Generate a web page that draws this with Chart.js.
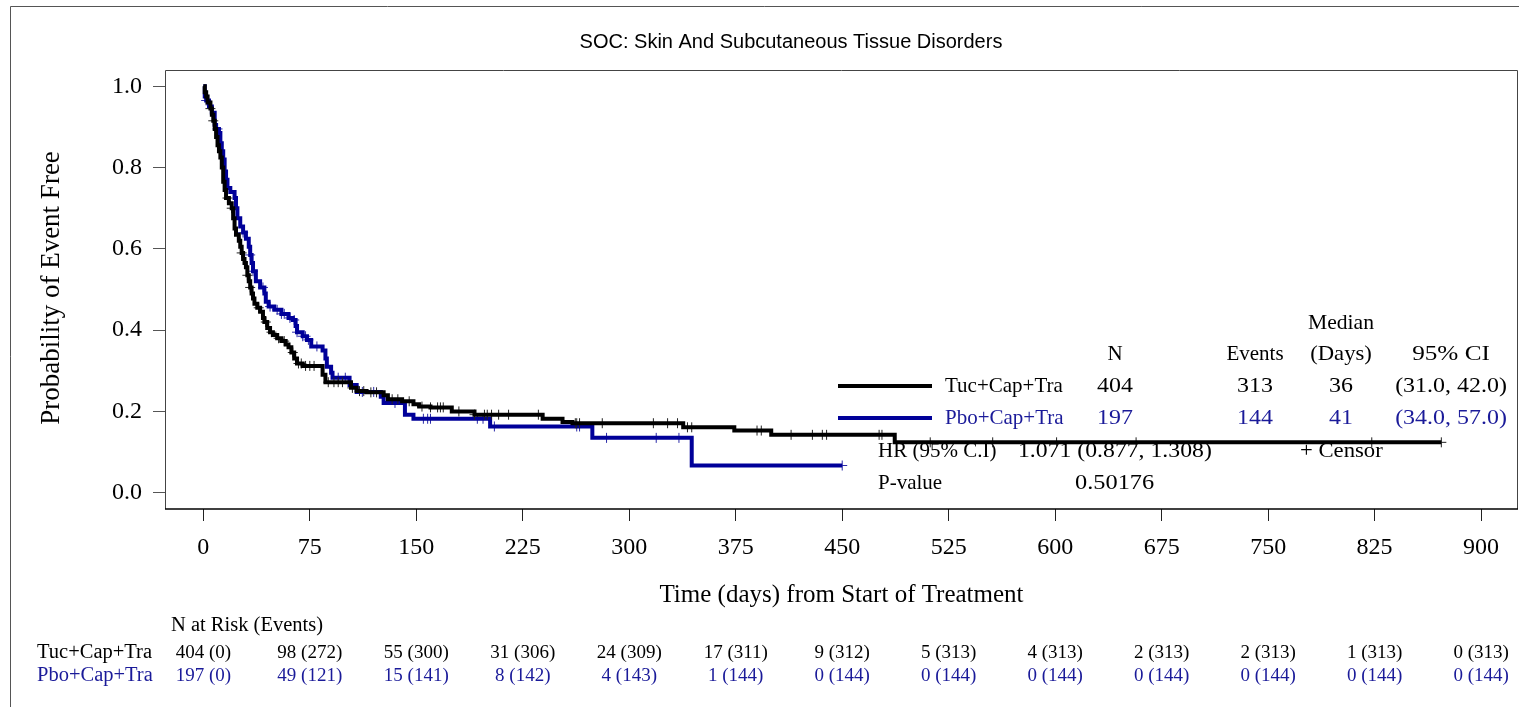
<!DOCTYPE html>
<html>
<head>
<meta charset="utf-8">
<script src="https://cdn.jsdelivr.net/npm/chart.js@4.4.1/dist/chart.umd.min.js"></script>
<style>
  html, body { margin: 0; padding: 0; background: #fff; }
  #wrap { width: 1524px; height: 707px; }
</style>
</head>
<body>
<div id="wrap"><canvas id="km" width="1524" height="707"></canvas></div>
<script>
// Axis ticks
const xTicks = [0, 75, 150, 225, 300, 375, 450, 525, 600, 675, 750, 825, 900];
const yTicks = [0, 0.2, 0.4, 0.6, 0.8, 1.0];

const armNames = ['Tuc+Cap+Tra', 'Pbo+Cap+Tra'];

// Kaplan-Meier steps (day, survival)
const tucDays = [0, 1, 2, 3, 5, 6, 7, 8, 9, 10, 11, 12, 13, 14, 15, 16, 18, 20, 21, 22, 23, 25, 26, 27, 28, 29, 30, 31, 32, 33,
  34, 35, 36, 38, 40, 42, 43, 45, 47, 49, 52, 55, 58, 60, 62, 64, 66, 70, 84, 86, 104, 108, 115, 127, 130, 140, 148, 152, 160, 175,
  191, 239, 253, 260, 338, 374, 400, 487, 872];
const tucSurv = [1, 0.985, 0.975, 0.96, 0.945, 0.93, 0.915, 0.895, 0.875, 0.855, 0.84, 0.825, 0.8, 0.765, 0.745, 0.725, 0.712, 0.7, 0.675, 0.65,
  0.635, 0.62, 0.605, 0.59, 0.575, 0.565, 0.555, 0.535, 0.52, 0.505, 0.49, 0.478, 0.465, 0.455, 0.445, 0.43, 0.42, 0.405, 0.395, 0.388,
  0.38, 0.373, 0.365, 0.358, 0.345, 0.33, 0.318, 0.312, 0.29, 0.272, 0.258, 0.25, 0.247, 0.24, 0.23, 0.225, 0.218, 0.212, 0.21, 0.2,
  0.192, 0.182, 0.174, 0.171, 0.161, 0.153, 0.1425, 0.124, 0.124];
const tucCensor = [5, 7, 17, 20, 27, 31, 33, 39, 44, 48, 53, 57, 63, 67, 69, 72, 75, 78, 88, 92, 95, 98, 105, 110, 113, 118, 122, 133, 137, 145,
  154, 160, 165, 167, 169, 180, 191, 198, 200, 203, 208, 215, 236, 262, 263, 265, 281, 317, 327, 334, 341, 344, 390, 393, 414, 429, 436, 439,
  476, 478, 512, 556, 601, 657, 823, 872];

const pboDays = [0, 1, 2, 4, 6, 8, 9, 11, 12, 13, 14, 15, 16, 17, 19, 22, 23, 24, 26, 28, 30, 32, 33, 34, 35, 37, 40, 43, 44, 46,
  50, 55, 60, 63, 65, 66, 70, 73, 76, 84, 86, 87, 90, 91, 103, 108, 125, 127, 142, 148, 202, 274, 344, 450];
const pboSurv = [1, 0.975, 0.965, 0.95, 0.935, 0.905, 0.895, 0.885, 0.86, 0.84, 0.82, 0.79, 0.77, 0.75, 0.74, 0.725, 0.7, 0.675, 0.655, 0.64,
  0.625, 0.605, 0.585, 0.565, 0.545, 0.52, 0.505, 0.49, 0.47, 0.458, 0.45, 0.44, 0.43, 0.425, 0.41, 0.395, 0.385, 0.376, 0.36, 0.35,
  0.33, 0.31, 0.295, 0.283, 0.265, 0.248, 0.236, 0.221, 0.192, 0.182, 0.163, 0.135, 0.067, 0.067];
const pboCensor = [2, 10, 28, 33, 35, 42, 47, 52, 55, 57, 61, 64, 66, 70, 72, 74, 80, 95, 100, 112, 120, 135, 155, 158, 160, 193, 197, 205,
  263, 265, 284, 319, 335, 450];

// N at risk (events) under each x tick
const tucAtRisk = [404, 98, 55, 31, 24, 17, 9, 5, 4, 2, 2, 1, 0];
const tucEvents = [0, 272, 300, 306, 309, 311, 312, 313, 313, 313, 313, 313, 313];
const pboAtRisk = [197, 49, 15, 8, 4, 1, 0, 0, 0, 0, 0, 0, 0];
const pboEvents = [0, 121, 141, 142, 143, 144, 144, 144, 144, 144, 144, 144, 144];

// Summary table
const statHeaders = ['N', 'Events', '(Days)', '95% CI'];
const tucStats = ['404', '313', '36', '(31.0, 42.0)'];
const pboStats = ['197', '144', '41', '(34.0, 57.0)'];
const hrText = ['HR (95% C.I)', '1.071 (0.877, 1.308)'];
const pText = ['P-value', '0.50176'];

const SERIF = '"Liberation Serif", "Times New Roman", serif';
const SANS = '"Liberation Sans", Arial, sans-serif';
const BLACK = '#000000';
const BLUE = '#000099';
const TEXT_BLUE = '#1a1a99';

function survAt(days, surv, t) {
  let s = surv[0];
  for (let i = 0; i < days.length; i++) {
    if (days[i] <= t) s = surv[i]; else break;
  }
  return s;
}

function steps(days, surv) {
  return days.map((d, i) => ({ x: d, y: surv[i] }));
}

function censorPts(cens, days, surv) {
  return cens.map(t => ({ x: t, y: survAt(days, surv, t) }));
}

// sx stretches the text horizontally (numbers in the original are set wide)
function txt(ctx, s, x, y, align, color, font, sx) {
  ctx.save();
  ctx.font = font;
  ctx.fillStyle = color;
  ctx.textAlign = align;
  ctx.textBaseline = 'middle';
  ctx.translate(x, y);
  ctx.scale(sx || 1, 1);
  ctx.fillText(s, 0, 0);
  ctx.restore();
}

function hline(ctx, x1, x2, y, color, w) {
  ctx.save();
  ctx.strokeStyle = color;
  ctx.lineWidth = w;
  ctx.beginPath();
  ctx.moveTo(x1, y);
  ctx.lineTo(x2, y);
  ctx.stroke();
  ctx.restore();
}

const decor = {
  id: 'decor',
  beforeDatasetsDraw(chart) {
    const ctx = chart.ctx;
    const f = '21px ' + SERIF;
    const cols = [1115, 1255, 1341, 1451];
    const hdrStretch = [1, 1, 1.08, 1.2];

    txt(ctx, 'Median', 1341, 323, 'center', BLACK, f, 1.03);
    statHeaders.forEach((h, i) => txt(ctx, h, cols[i], 354, 'center', BLACK, f, hdrStretch[i]));

    hline(ctx, 838, 932, 386, BLACK, 4);
    txt(ctx, armNames[0], 945, 386, 'left', BLACK, f);
    tucStats.forEach((v, i) => txt(ctx, v, cols[i], 386, 'center', BLACK, f, 1.14));

    hline(ctx, 838, 932, 418, BLUE, 4);
    txt(ctx, armNames[1], 945, 418, 'left', TEXT_BLUE, f);
    pboStats.forEach((v, i) => txt(ctx, v, cols[i], 418, 'center', TEXT_BLUE, f, 1.14));

    txt(ctx, hrText[0], 878, 451, 'left', BLACK, f);
    txt(ctx, hrText[1], 1018, 451, 'left', BLACK, f, 1.13);
    txt(ctx, '+ Censor', 1300, 451, 'left', BLACK, f, 1.08);
    txt(ctx, pText[0], 878, 483, 'left', BLACK, f);
    txt(ctx, pText[1], 1075, 483, 'left', BLACK, f, 1.16);
  },
  afterDraw(chart) {
    const ctx = chart.ctx;
    const a = chart.chartArea;
    const xs = chart.scales.x;

    // outer frame
    ctx.save();
    ctx.strokeStyle = '#555';
    ctx.lineWidth = 1;
    ctx.beginPath();
    ctx.moveTo(10.5, 707);
    ctx.lineTo(10.5, 6.5);
    ctx.lineTo(1519, 6.5);
    ctx.stroke();

    // plot frame
    ctx.strokeStyle = '#444';
    ctx.beginPath();
    ctx.moveTo(a.left + 0.5, a.bottom);
    ctx.lineTo(a.left + 0.5, a.top + 0.5);
    ctx.lineTo(a.right - 0.5, a.top + 0.5);
    ctx.lineTo(a.right - 0.5, a.bottom);
    ctx.stroke();
    ctx.restore();
    hline(ctx, a.left, a.right, a.bottom, '#000', 1.5);

    txt(ctx, 'SOC: Skin And Subcutaneous Tissue Disorders', 791, 42, 'center', BLACK, '20px ' + SANS);
    txt(ctx, 'Time (days) from Start of Treatment', (a.left + a.right) / 2, 595, 'center', BLACK, '25px ' + SERIF);

    ctx.save();
    ctx.translate(52, 288);
    ctx.rotate(-Math.PI / 2);
    txt(ctx, 'Probability of Event Free', 0, 0, 'center', BLACK, '27px ' + SERIF);
    ctx.restore();

    // risk table
    const lf = '20.5px ' + SERIF;
    const rf = '19px ' + SERIF;
    txt(ctx, 'N at Risk (Events)', 171, 626, 'left', BLACK, lf);
    txt(ctx, armNames[0], 37, 653, 'left', BLACK, lf);
    txt(ctx, armNames[1], 37, 676, 'left', TEXT_BLUE, lf);
    xTicks.forEach((t, i) => {
      const px = xs.getPixelForValue(t);
      txt(ctx, tucAtRisk[i] + ' (' + tucEvents[i] + ')', px, 653, 'center', BLACK, rf);
      txt(ctx, pboAtRisk[i] + ' (' + pboEvents[i] + ')', px, 676, 'center', TEXT_BLUE, rf);
    });
  }
};

new Chart(document.getElementById('km'), {
  type: 'scatter',
  data: {
    datasets: [
      {
        label: armNames[0],
        data: steps(tucDays, tucSurv),
        showLine: true,
        stepped: true,
        borderColor: BLACK,
        borderWidth: 4,
        pointRadius: 0
      },
      {
        label: armNames[0] + ' censor',
        data: censorPts(tucCensor, tucDays, tucSurv),
        showLine: false,
        pointStyle: 'cross',
        pointRadius: 5,
        borderColor: '#222',
        borderWidth: 1
      },
      {
        label: armNames[1],
        data: steps(pboDays, pboSurv),
        showLine: true,
        stepped: true,
        borderColor: BLUE,
        borderWidth: 4,
        pointRadius: 0
      },
      {
        label: armNames[1] + ' censor',
        data: censorPts(pboCensor, pboDays, pboSurv),
        showLine: false,
        pointStyle: 'cross',
        pointRadius: 5,
        borderColor: '#2a2aa8',
        borderWidth: 1
      }
    ]
  },
  options: {
    responsive: false,
    animation: false,
    devicePixelRatio: 1,
    layout: { padding: { left: 10, top: 70, right: 5, bottom: 0 } },
    plugins: { legend: { display: false }, tooltip: { enabled: false }, title: { display: false } },
    scales: {
      x: {
        type: 'linear',
        min: -27,
        max: 926,
        afterBuildTicks: s => { s.ticks = xTicks.map(v => ({ value: v })); },
        afterFit: s => { s.height = 198; },
        border: { display: false },
        grid: { drawOnChartArea: false, drawTicks: true, tickLength: 12, color: '#222' },
        ticks: { color: '#000', font: { family: SERIF, size: 24 }, padding: 12, maxRotation: 0, autoSkip: false }
      },
      y: {
        type: 'linear',
        min: -0.04,
        max: 1.04,
        afterBuildTicks: s => { s.ticks = yTicks.map(v => ({ value: v })); },
        afterFit: s => { s.width = 155; },
        border: { display: false },
        grid: { drawOnChartArea: false, drawTicks: true, tickLength: 12, color: '#555' },
        ticks: { color: '#000', font: { family: SERIF, size: 24 }, padding: 11, callback: v => v.toFixed(1) }
      }
    }
  },
  plugins: [decor]
});
</script>
</body>
</html>
